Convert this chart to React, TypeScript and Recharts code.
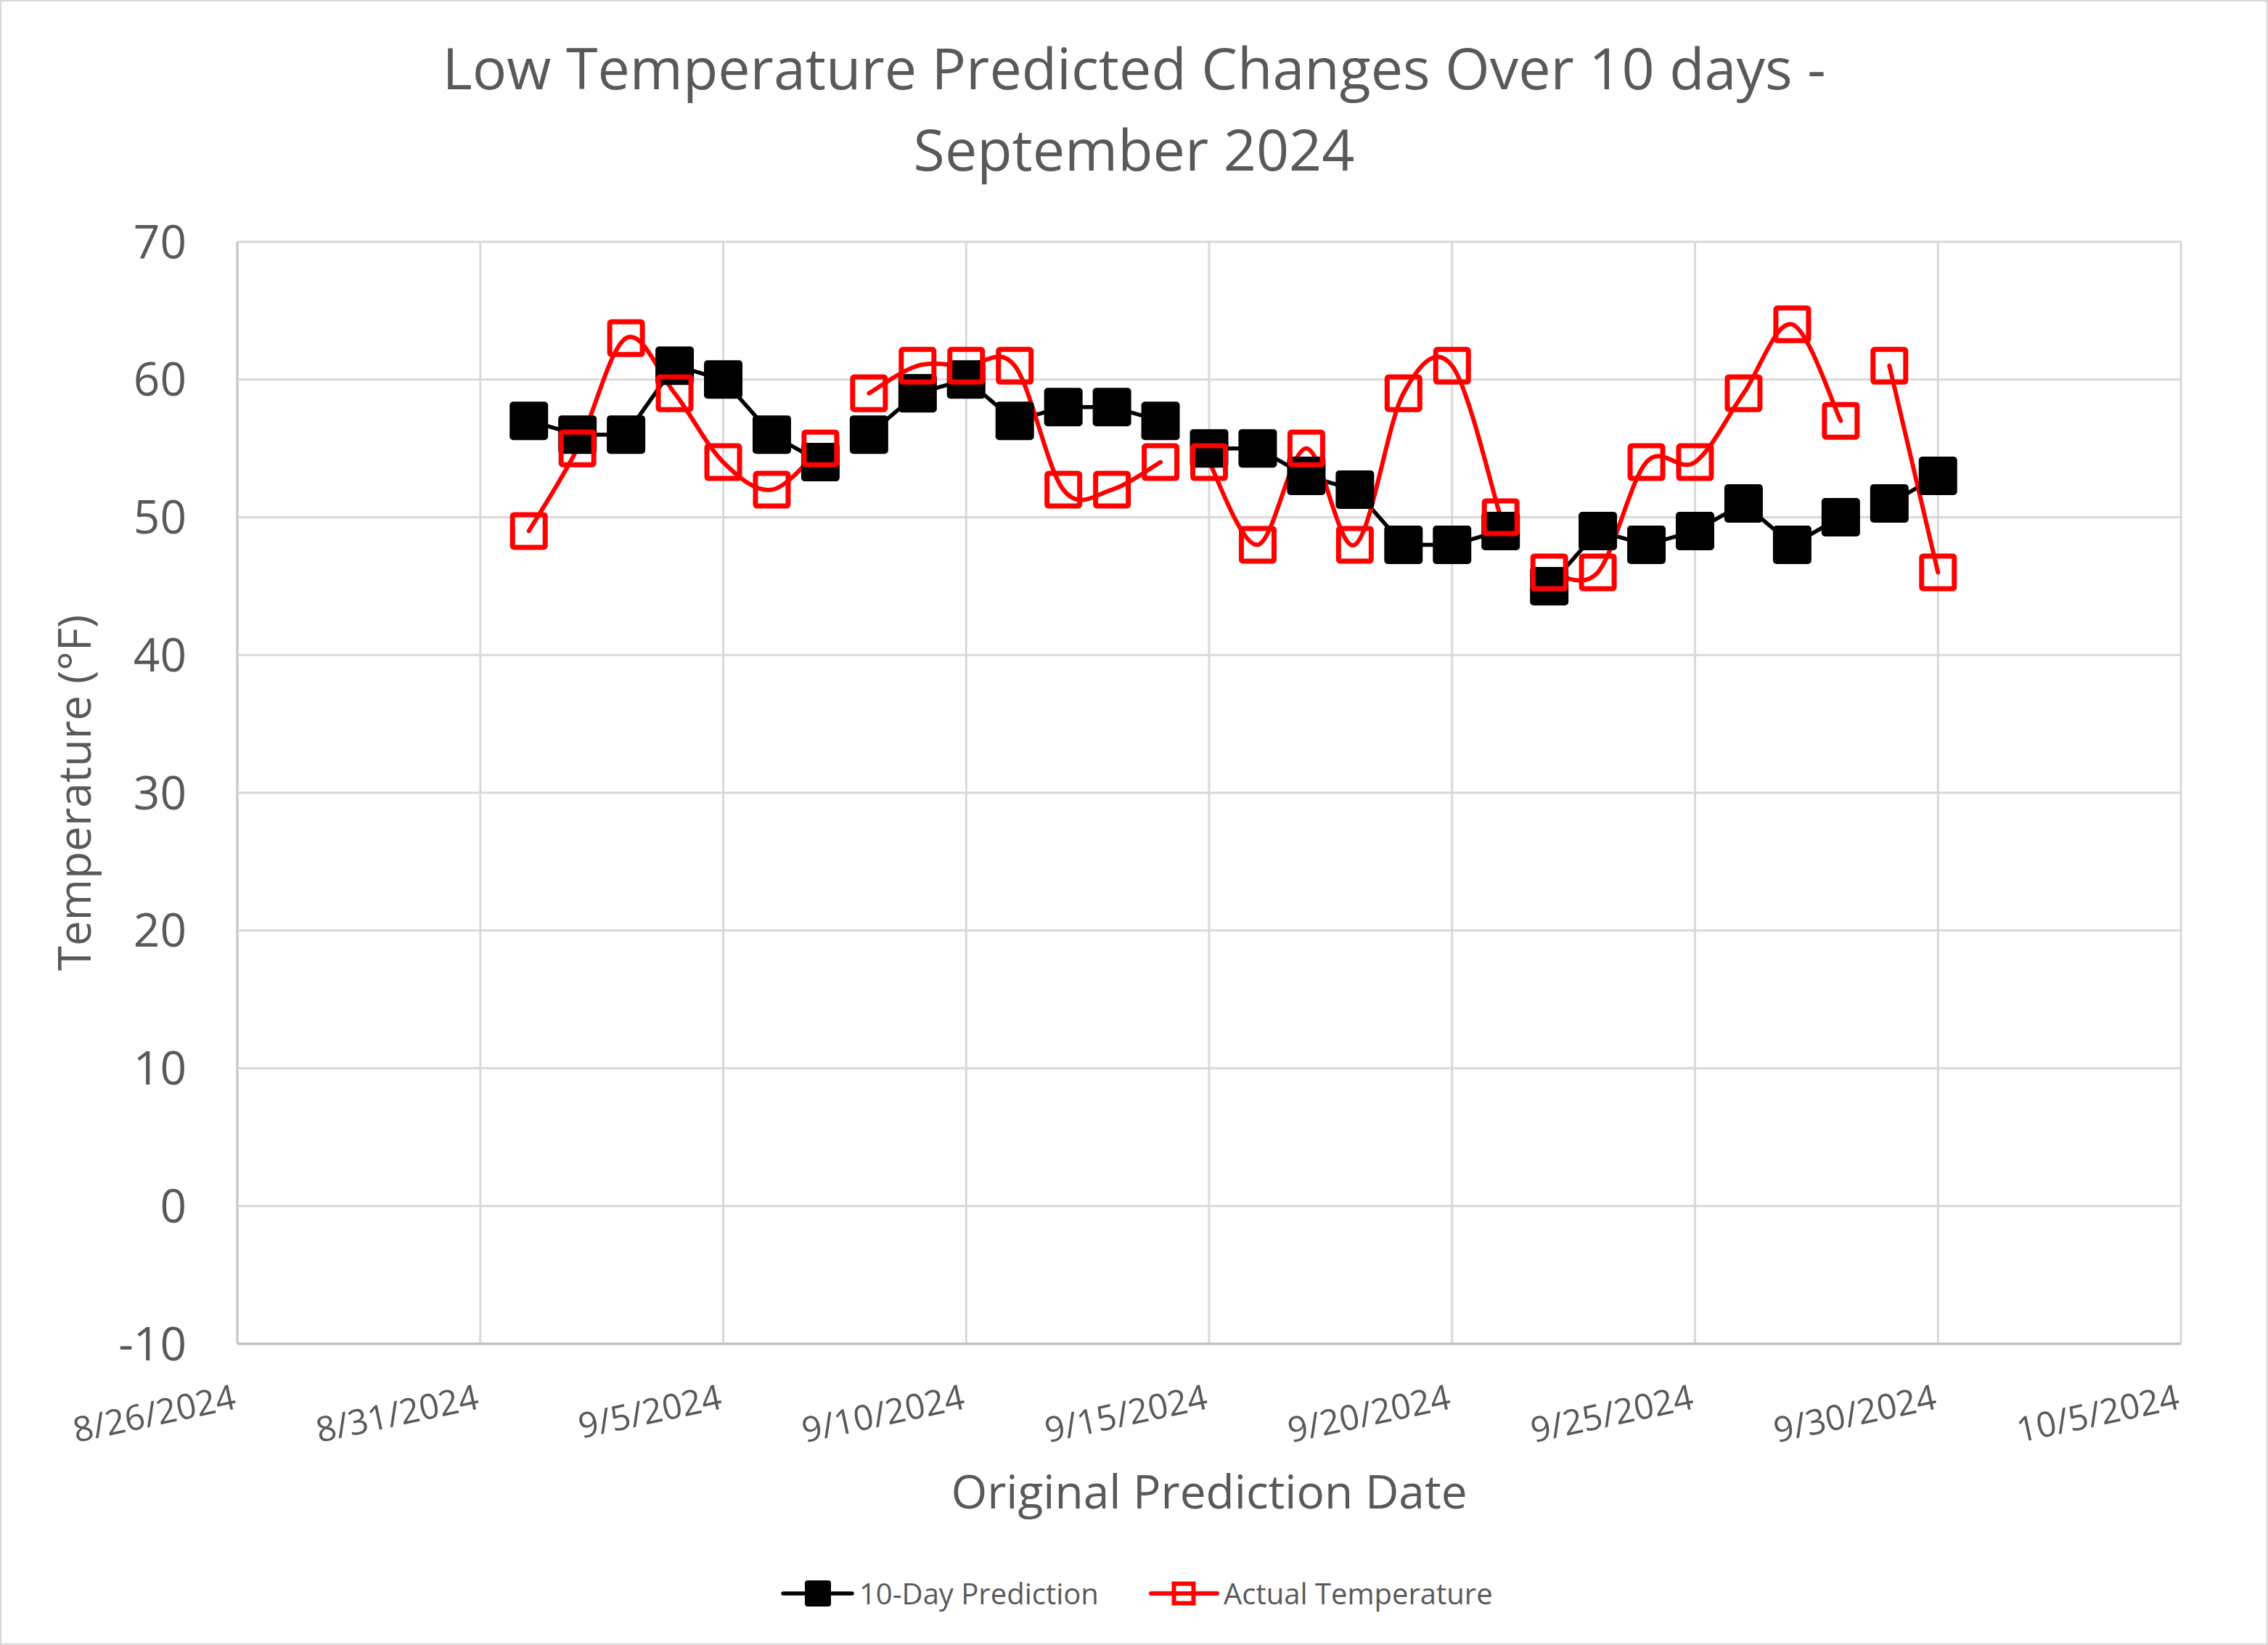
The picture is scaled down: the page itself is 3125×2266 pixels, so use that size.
import React from "react";
import { LineChart, Line, XAxis, YAxis, CartesianGrid } from "recharts";

if (typeof document !== "undefined") {
  document.body.style.margin = "0";
}

// ---- data ----
const dates = [
  "9/1/2024", "9/2/2024", "9/3/2024", "9/4/2024", "9/5/2024", "9/6/2024", "9/7/2024",
  "9/8/2024", "9/9/2024", "9/10/2024", "9/11/2024", "9/12/2024", "9/13/2024", "9/14/2024",
  "9/15/2024", "9/16/2024", "9/17/2024", "9/18/2024", "9/19/2024", "9/20/2024", "9/21/2024",
  "9/22/2024", "9/23/2024", "9/24/2024", "9/25/2024", "9/26/2024", "9/27/2024", "9/28/2024",
  "9/29/2024", "9/30/2024",
];
const predicted = [
  57, 56, 56, 61, 60, 56, 54,
  56, 59, 60, 57, 58, 58, 57,
  55, 55, 53, 52, 48, 48, 49,
  45, 49, 48, 49, 51, 48, 50,
  51, 53,
];
const actual = [
  49, 55, 63, 59, 54, 52, 55,
  59, 61, 61, 61, 52, 52, 54,
  54, 48, 55, 48, 59, 61, 50,
  46, 46, 54, 54, 59, 64, 57,
  61, 46,
];
const segmentStarts = ["9/1/2024", "9/8/2024", "9/15/2024", "9/22/2024", "9/29/2024"];
const xTickLabels = [
  "8/26/2024", "8/31/2024", "9/5/2024", "9/10/2024", "9/15/2024",
  "9/20/2024", "9/25/2024", "9/30/2024", "10/5/2024",
];
const yTicks = [-10, 0, 10, 20, 30, 40, 50, 60, 70];

const seriesNames = ["10-Day Prediction", "Actual Temperature"];
const titleLines = ["Low Temperature Predicted Changes Over 10 days -", "September 2024"];
const xTitle = "Original Prediction Date";
const yTitle = "Temperature (°F)";

// ---- helpers ----
const toDay = (s: string) => {
  const [m, d, y] = s.split("/").map(Number);
  return Math.round(Date.UTC(y, m - 1, d) / 86400000);
};
const segStartDays = segmentStarts.map(toDay);
const segOf = (day: number) => {
  let k = 0;
  segStartDays.forEach((s, i) => {
    if (day >= s) k = i;
  });
  return k;
};
const rows = dates.map((d, i) => {
  const x = toDay(d);
  return { x, seg: segOf(x), pred: predicted[i], act: actual[i] };
});
const xTicks = xTickLabels.map(toDay);
const labelOf = (v: number) => xTickLabels[xTicks.indexOf(v)] ?? "";

// Excel-like smoothed curve (Catmull-Rom style bezier)
function excelSmooth(context: any) {
  let pts: [number, number][] = [];
  return {
    areaStart() {},
    areaEnd() {},
    lineStart() {
      pts = [];
    },
    point(x: number, y: number) {
      pts.push([+x, +y]);
    },
    lineEnd() {
      const n = pts.length;
      if (!n) return;
      context.moveTo(pts[0][0], pts[0][1]);
      if (n === 1) {
        context.lineTo(pts[0][0], pts[0][1]);
        return;
      }
      for (let i = 0; i < n - 1; i++) {
        const p0 = pts[i - 1] || pts[i];
        const p1 = pts[i];
        const p2 = pts[i + 1];
        const p3 = pts[i + 2] || pts[i + 1];
        const c1x = p1[0] + (p2[0] - p0[0]) / 6;
        const c1y = p1[1] + (p2[1] - p0[1]) / 6;
        const c2x = p2[0] - (p3[0] - p1[0]) / 6;
        const c2y = p2[1] - (p3[1] - p1[1]) / 6;
        context.bezierCurveTo(c1x, c1y, c2x, c2y, p2[0], p2[1]);
      }
    },
  };
}

const FONT = '"Open Sans", "Noto Sans", sans-serif';
const TXT = "#595959";
const BLACK = "#000000";
const RED = "#FF0000";

const W = 3125;
const H = 2266;

const BlackDot = (props: any) => {
  const { cx, cy, value, index } = props;
  if (cx == null || cy == null || value == null) return <g key={"bd" + index} />;
  return <rect key={"bd" + index} x={cx - 26.5} y={cy - 26.5} width={53} height={53} rx={5} ry={5} fill={BLACK} />;
};
const RedDot = (props: any) => {
  const { cx, cy, value, index } = props;
  if (cx == null || cy == null || value == null) return <g key={"rd" + index} />;
  return (
    <rect key={"rd" + index} x={cx - 22.5} y={cy - 22.5} width={45} height={45} rx={2} fill="none" stroke={RED} strokeWidth={7} />
  );
};

const XTick = (props: any) => {
  const { x, y, payload } = props;
  return (
    <g transform={`translate(${x},${y + 89})`}>
      <text x={0} y={0} transform="rotate(-12)" textAnchor="end" fill={TXT} fontSize={48} fontFamily={FONT}>
        {labelOf(payload.value)}
      </text>
    </g>
  );
};

export default function App() {
  return (
    <div style={{ position: "relative", width: W, height: H, background: "#fff" }}>
      <LineChart
        width={W}
        height={H}
        data={rows}
        margin={{ top: 333, right: 120, bottom: 0, left: 0 }}
      >
        <CartesianGrid stroke="#d9d9d9" strokeWidth={3} />
        <XAxis
          dataKey="x"
          type="number"
          domain={[xTicks[0], xTicks[xTicks.length - 1]]}
          ticks={xTicks}
          interval={0}
          tick={<XTick />}
          tickLine={false}
          tickSize={0}
          tickMargin={0}
          axisLine={{ stroke: "#bfbfbf", strokeWidth: 3 }}
          height={415}
        />
        <YAxis
          type="number"
          domain={[-10, 70]}
          ticks={yTicks}
          interval={0}
          width={327}
          tickLine={false}
          tickSize={0}
          tickMargin={70}
          axisLine={{ stroke: "#c8c8c8", strokeWidth: 3 }}
          tick={{ fill: TXT, fontSize: 64, fontFamily: FONT }}
        />
        {segmentStarts.map((_, k) => (
          <Line
            key={"p" + k}
            dataKey={(r: any) => (r.seg === k ? r.pred : null)}
            type="linear"
            stroke={BLACK}
            strokeWidth={5.5}
            strokeLinecap="round"
            dot={BlackDot}
            activeDot={false}
            isAnimationActive={false}
            connectNulls={false}
          />
        ))}
        {segmentStarts.map((_, k) => (
          <Line
            key={"a" + k}
            dataKey={(r: any) => (r.seg === k ? r.act : null)}
            type={excelSmooth as any}
            stroke={RED}
            strokeWidth={6}
            strokeLinecap="round"
            dot={RedDot}
            activeDot={false}
            isAnimationActive={false}
            connectNulls={false}
          />
        ))}
      </LineChart>
      <svg
        width={W}
        height={H}
        style={{ position: "absolute", left: 0, top: 0, pointerEvents: "none" }}
      >
        <rect x={1} y={1} width={W - 2} height={H - 2} fill="none" stroke="#d9d9d9" strokeWidth={2.5} />
        <text x={W / 2} y={123} textAnchor="middle" fill={TXT} fontSize={79} fontFamily={FONT}>
          {titleLines[0]}
        </text>
        <text x={W / 2} y={235} textAnchor="middle" fill={TXT} fontSize={79} fontFamily={FONT}>
          {titleLines[1]}
        </text>
        <text
          transform="translate(125,1092) rotate(-90)"
          textAnchor="middle"
          fill={TXT}
          fontSize={62}
          fontFamily={FONT}
        >
          {yTitle}
        </text>
        <text x={1666} y={2078} textAnchor="middle" fill={TXT} fontSize={64} fontFamily={FONT}>
          {xTitle}
        </text>
        {/* legend */}
        <line x1={1079} y1={2195} x2={1174} y2={2195} stroke={BLACK} strokeWidth={5.5} strokeLinecap="round" />
        <rect x={1109} y={2177} width={36} height={36} rx={4} fill={BLACK} />
        <text x={1184} y={2210} fill={TXT} fontSize={40} fontFamily={FONT}>
          {seriesNames[0]}
        </text>
        <line x1={1586} y1={2195} x2={1677} y2={2195} stroke={RED} strokeWidth={6} strokeLinecap="round" />
        <rect x={1617.5} y={2181.5} width={27} height={27} fill="none" stroke={RED} strokeWidth={6} />
        <text x={1686} y={2210} fill={TXT} fontSize={40} fontFamily={FONT}>
          {seriesNames[1]}
        </text>
      </svg>
    </div>
  );
}
